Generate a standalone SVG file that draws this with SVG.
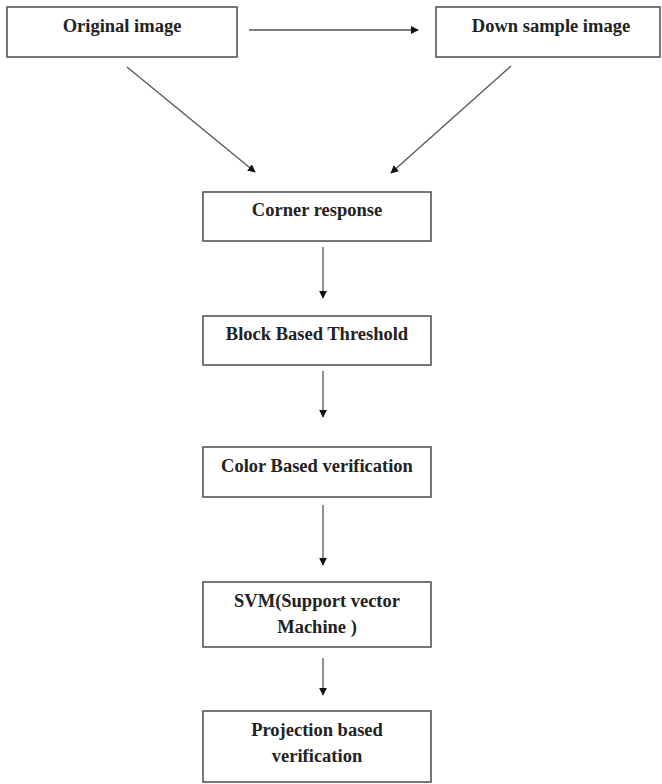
<svg xmlns="http://www.w3.org/2000/svg" width="662" height="784" viewBox="0 0 662 784">
<style>
.box{fill:#fff;stroke:#555;stroke-width:1.6}
.lbl{font-family:"Liberation Serif","Times New Roman",serif;font-weight:bold;font-size:18.5px;fill:#222;text-anchor:middle}
.conn{stroke:#555;stroke-width:1.3;fill:none;marker-end:url(#ah)}
</style>
<defs>
<marker id="ah" viewBox="0 0 10 10" refX="9" refY="5" markerWidth="8" markerHeight="8" markerUnits="userSpaceOnUse" orient="auto">
<path d="M0,0 L10,5 L0,10 z" fill="#111"/>
</marker>
</defs>
<rect width="662" height="784" fill="#fff"/>
<g id="original">
<rect class="box" x="7" y="7" width="230" height="50"/>
<text class="lbl" x="122" y="32">Original image</text>
</g>
<g id="downsample">
<rect class="box" x="436" y="7" width="224" height="50"/>
<text class="lbl" x="551" y="32">Down sample image</text>
</g>
<g id="corner">
<rect class="box" x="203" y="192" width="228" height="49"/>
<text class="lbl" x="317" y="216">Corner response</text>
</g>
<g id="block">
<rect class="box" x="203" y="316" width="228" height="49"/>
<text class="lbl" x="317" y="340">Block Based Threshold</text>
</g>
<g id="color">
<rect class="box" x="203" y="447" width="228" height="50"/>
<text class="lbl" x="317" y="472">Color Based verification</text>
</g>
<g id="svm">
<rect class="box" x="203" y="582" width="228" height="65"/>
<text class="lbl" x="317" y="607">SVM(Support vector</text>
<text class="lbl" x="317" y="633">Machine )</text>
</g>
<g id="projection">
<rect class="box" x="203" y="711" width="228" height="71"/>
<text class="lbl" x="317" y="736">Projection based</text>
<text class="lbl" x="317" y="762">verification</text>
</g>
<g id="connectors">
<line class="conn" x1="249" y1="30" x2="418" y2="30"/>
<line class="conn" x1="127" y1="67" x2="255" y2="172"/>
<line class="conn" x1="511" y1="66" x2="391" y2="173"/>
<line class="conn" x1="323" y1="247" x2="323" y2="298"/>
<line class="conn" x1="323" y1="371" x2="323" y2="417"/>
<line class="conn" x1="323" y1="505" x2="323" y2="565"/>
<line class="conn" x1="323" y1="658" x2="323" y2="695"/>
</g>
</svg>
